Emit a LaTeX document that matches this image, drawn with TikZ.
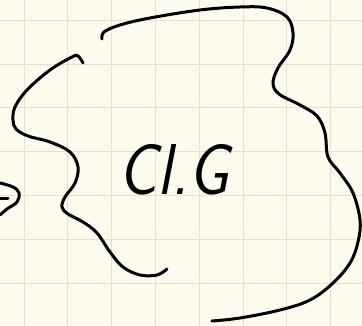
\documentclass[tikz,border=0pt]{standalone}
\definecolor{paper}{HTML}{FDFBEE}
\definecolor{gridline}{HTML}{E4E0CC}
\tikzset{ink/.style={line width=3pt,line cap=round,line join=round}}
\begin{document}
\begin{tikzpicture}[x=1pt,y=-1pt]
  \fill[paper] (0,0) rectangle (362,326);
  \useasboundingbox (0,0) rectangle (362,326);
  \foreach \x in {0,...,7} \draw[gridline,line width=0.9pt] (24+43.8*\x,0) -- (24+43.8*\x,326);
  \foreach \y in {0,...,6} \draw[gridline,line width=0.9pt] (0,20.3+43.8*\y) -- (362,20.3+43.8*\y);
  \draw[ink] plot[smooth,tension=0.6] coordinates {(83,63) (78,56) (72,57) (50,70) (27,90) (15,107) (13,120) (16,129) (28,136) (50,142) (70,152) (78,167) (75,183) (65,197) (62,207) (68,214) (83,222) (97,233) (110,252) (123,267) (140,275) (157,275) (167,269)};
  \draw[ink] plot[smooth,tension=0.6] coordinates {(102,39) (104,32) (120,25) (150,18) (200,10) (240,7) (267,8) (287,17) (293,33) (290,50) (278,68) (273,83) (279,94) (300,105) (317,116) (325,133) (328,157) (340,173) (353,193) (360,220) (358,242) (350,263) (333,283) (310,300) (280,310) (240,318) (212,321)};
  \draw[ink] plot[smooth,tension=0.6] coordinates {(0,183) (13,187) (19,193) (17,202) (7,209) (0,215)};
  \draw[ink] (0,199) -- (8,199);
  \node[inner sep=0pt,xscale=0.9,font=\fontsize{72}{72}\selectfont\sffamily\itshape] (label) at (174,170) {Cl.G};
\end{tikzpicture}
\end{document}
